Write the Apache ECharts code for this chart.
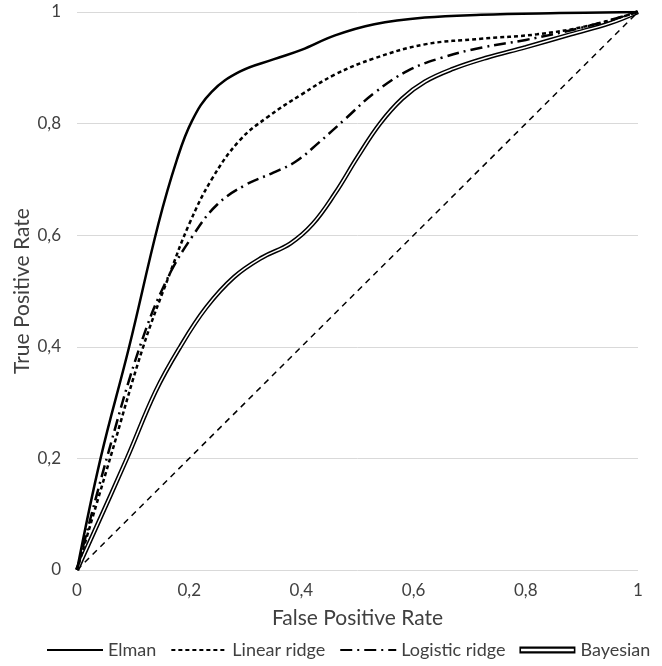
<!DOCTYPE html>
<html>
<head>
<meta charset="utf-8">
<script src="https://cdn.jsdelivr.net/npm/echarts@6/dist/echarts.min.js"></script>
<style>
  html, body { margin: 0; padding: 0; background: #fff; }
  #chart { width: 662px; height: 666px; }
</style>
</head>
<body>
<div id="chart"></div>
<script>
// ROC curves, values
const elmanFpr = [0, 0.042, 0.093, 0.145, 0.178, 0.205, 0.240, 0.290, 0.350, 0.400, 0.460, 0.530, 0.620, 0.720, 0.860, 1];
const elmanTpr = [0, 0.200, 0.400, 0.620, 0.735, 0.805, 0.857, 0.893, 0.915, 0.932, 0.958, 0.978, 0.990, 0.995, 0.998, 1];

const linearFpr = [0, 0.059, 0.118, 0.165, 0.200, 0.240, 0.290, 0.340, 0.400, 0.460, 0.530, 0.620, 0.720, 0.820, 0.910, 1];
const linearTpr = [0, 0.200, 0.400, 0.530, 0.620, 0.700, 0.770, 0.812, 0.852, 0.888, 0.917, 0.942, 0.952, 0.960, 0.975, 1];

const logisticFpr = [0, 0.053, 0.112, 0.160, 0.207, 0.250, 0.300, 0.350, 0.390, 0.430, 0.480, 0.530, 0.590, 0.650, 0.720, 0.800, 0.900, 1];
const logisticTpr = [0, 0.200, 0.400, 0.520, 0.600, 0.655, 0.690, 0.712, 0.732, 0.765, 0.810, 0.855, 0.895, 0.918, 0.936, 0.950, 0.972, 1];

const bayesFpr = [0, 0.089, 0.140, 0.184, 0.230, 0.280, 0.330, 0.380, 0.420, 0.460, 0.500, 0.540, 0.580, 0.620, 0.670, 0.730, 0.800, 0.880, 0.950, 1];
const bayesTpr = [0, 0.200, 0.320, 0.400, 0.470, 0.525, 0.560, 0.585, 0.620, 0.675, 0.740, 0.800, 0.845, 0.875, 0.898, 0.918, 0.937, 0.960, 0.980, 1];

const chanceFpr = [0, 1];
const chanceTpr = [0, 1];

const seriesNames = ['Elman', 'Linear ridge', 'Logistic ridge', 'Bayesian'];

const pairs = (xs, ys) => xs.map((x, i) => [x, ys[i]]);
const fmt = v => String(v).replace('.', ',');
const FONT = 'Lato, "Open Sans", sans-serif';

const chart = echarts.init(document.getElementById('chart'), null, { renderer: 'canvas' });

const lineBase = {
    type: 'line',
    symbol: 'circle',
    showSymbol: false,
    smooth: 0.4,
    silent: true,
    animation: false
};

const option = {
    backgroundColor: '#FFFFFF',
    animation: false,
    textStyle: { fontFamily: FONT },
    grid: { left: 77, right: 24, top: 12, bottom: 96 },
    xAxis: {
        type: 'value',
        min: 0,
        max: 1,
        interval: 0.2,
        name: 'False Positive Rate',
        nameLocation: 'middle',
        nameGap: 38,
        nameMoveOverlap: false,
        nameTextStyle: { fontSize: 21, color: '#404040', fontFamily: FONT },
        axisLine: { show: false },
        axisTick: { show: false },
        splitLine: { show: false },
        axisLabel: { margin: 12, fontSize: 17, color: '#404040', formatter: fmt }
    },
    yAxis: {
        type: 'value',
        min: 0,
        max: 1,
        interval: 0.2,
        name: 'True Positive Rate',
        nameLocation: 'middle',
        nameGap: 44,
        nameMoveOverlap: false,
        nameTextStyle: { fontSize: 21, color: '#404040', fontFamily: FONT },
        axisLine: { show: false },
        axisTick: { show: false },
        splitLine: { lineStyle: { color: '#D9D9D9', width: 1 } },
        axisLabel: { margin: 16, fontSize: 17, color: '#404040', formatter: fmt }
    },
    legend: {
        bottom: 2,
        left: 41,
        itemWidth: 56,
        itemHeight: 12,
        itemGap: 14,
        itemStyle: { opacity: 0 },
        textStyle: { fontSize: 18, color: '#404040', fontFamily: FONT },
        data: [
            { name: seriesNames[0] },
            { name: seriesNames[1] },
            { name: seriesNames[2] },
            {
                name: seriesNames[3],
                icon: 'path://M0,0 H56 V7 H0 Z M1.6,2.2 V4.8 H54.4 V2.2 Z',
                itemStyle: { color: '#000', borderWidth: 0, opacity: 1 }
            }
        ]
    },
    series: [
        {
            ...lineBase,
            name: 'chance',
            smooth: false,
            data: pairs(chanceFpr, chanceTpr),
            lineStyle: { color: '#000', width: 1.5, type: [6, 5] },
            z: 1
        },
        {
            ...lineBase,
            name: seriesNames[0],
            data: pairs(elmanFpr, elmanTpr),
            itemStyle: { color: '#000' },
            lineStyle: { color: '#000', width: 2.5 },
            z: 5
        },
        {
            ...lineBase,
            name: seriesNames[1],
            data: pairs(linearFpr, linearTpr),
            itemStyle: { color: '#000' },
            lineStyle: { color: '#000', width: 2.5, type: [4, 3] },
            z: 4
        },
        {
            ...lineBase,
            name: seriesNames[2],
            data: pairs(logisticFpr, logisticTpr),
            itemStyle: { color: '#000' },
            lineStyle: { color: '#000', width: 2.5, type: [12, 5, 2, 5] },
            z: 3
        },
        {
            ...lineBase,
            name: seriesNames[3],
            data: pairs(bayesFpr, bayesTpr),
            itemStyle: { color: '#000' },
            lineStyle: { color: '#000', width: 4.5 },
            z: 2
        },
        {
            ...lineBase,
            name: 'bayes-core',
            data: pairs(bayesFpr, bayesTpr),
            lineStyle: { color: '#FFF', width: 1.5 },
            z: 2
        }
    ]
};

chart.setOption(option);
</script>
</body>
</html>
